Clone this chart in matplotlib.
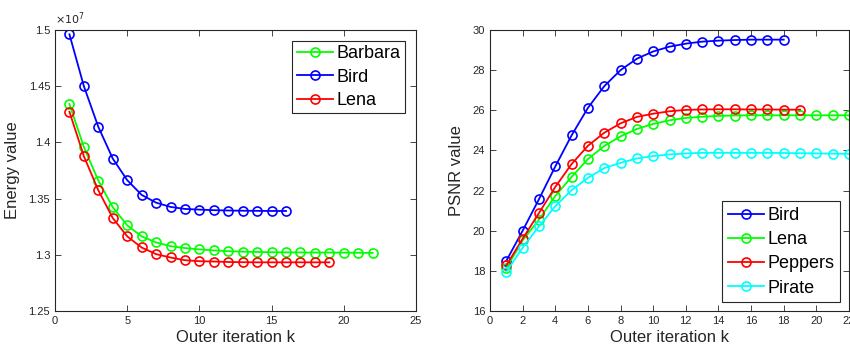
import matplotlib
matplotlib.use("Agg")
import matplotlib.pyplot as plt
from matplotlib.ticker import FuncFormatter

plt.rcParams["font.family"] = ["Liberation Sans", "DejaVu Sans"]

# ---- data ----
# left panel: energy (in units of 1e7)
energy_barbara = [1.4341, 1.3958, 1.3661, 1.3423, 1.3262, 1.3164, 1.3110, 1.3077,
                  1.3060, 1.3048, 1.3039, 1.3032, 1.3028, 1.3025, 1.3023, 1.3022,
                  1.3021, 1.3020, 1.3020, 1.3019, 1.3018, 1.3017]
energy_bird = [1.4961, 1.4500, 1.4138, 1.3856, 1.3664, 1.3533, 1.3464, 1.3426,
               1.3408, 1.3402, 1.3397, 1.3394, 1.3392, 1.3391, 1.3390, 1.3390]
energy_lena = [1.4272, 1.3877, 1.3574, 1.3327, 1.3164, 1.3065, 1.3006, 1.2976,
               1.2952, 1.2943, 1.2940, 1.2936, 1.2934, 1.2933, 1.2933, 1.2933,
               1.2933, 1.2933, 1.2933]
energy_names = ["Barbara", "Bird", "Lena"]

# right panel: PSNR
psnr_bird = [18.50, 20.00, 21.57, 23.20, 24.75, 26.12, 27.20, 28.00, 28.57,
             28.93, 29.17, 29.32, 29.42, 29.47, 29.50, 29.52, 29.52, 29.52]
psnr_lena = [18.13, 19.52, 20.55, 21.73, 22.68, 23.57, 24.22, 24.70, 25.07,
             25.32, 25.50, 25.62, 25.68, 25.72, 25.74, 25.75, 25.75, 25.75,
             25.75, 25.75, 25.75, 25.75]
psnr_peppers = [18.27, 19.60, 20.88, 22.18, 23.32, 24.23, 24.88, 25.35, 25.67,
                25.83, 25.95, 26.02, 26.04, 26.05, 26.05, 26.04, 26.04, 26.03, 26.03]
psnr_pirate = [17.95, 19.15, 20.22, 21.22, 22.02, 22.63, 23.12, 23.38, 23.60,
               23.72, 23.80, 23.85, 23.88, 23.88, 23.88, 23.88, 23.88, 23.87,
               23.86, 23.85, 23.84, 23.83]
psnr_names = ["Bird", "Lena", "Peppers", "Pirate"]

GREY = "#262626"

fig = plt.figure(figsize=(8.5, 3.5), dpi=100)
ax1 = fig.add_axes([55/850, 1-311/350, (416-55)/850, (311-30)/350])
ax2 = fig.add_axes([490/850, 1-311/350, (849-490)/850, (311-30)/350])

def style(ax):
    ax.tick_params(direction="in", top=True, right=True, labelsize=8,
                   colors=GREY, length=4, width=0.6)
    for s in ax.spines.values():
        s.set_color(GREY)
        s.set_linewidth(0.8)

def series(ax, ys, color, label):
    ks = list(range(1, len(ys) + 1))
    ax.plot(ks, ys, "-o", color=color, lw=1.3, ms=6.5, mfc="none", mew=1.2,
            label=label)

# ---- left: energy ----
series(ax1, energy_barbara, (0, 1, 0), energy_names[0])
series(ax1, energy_bird, (0, 0, 1), energy_names[1])
series(ax1, energy_lena, (1, 0, 0), energy_names[2])
ax1.set_xlim(0, 25)
ax1.set_ylim(1.25, 1.5)
ax1.set_xticks(range(0, 26, 5))
ax1.set_yticks([1.25, 1.3, 1.35, 1.4, 1.45, 1.5])
ax1.yaxis.set_major_formatter(FuncFormatter(lambda v, p: "%g" % round(v, 4)))
style(ax1)
ax1.set_xlabel("Outer iteration k", fontsize=12, color=GREY, labelpad=3)
ax1.set_ylabel("Energy value", fontsize=12, color=GREY, labelpad=6)
ax1.text(0.0, 1.012, r"$\times10^{7}$", transform=ax1.transAxes, fontsize=8,
         color=GREY, ha="left", va="bottom")
leg1 = ax1.legend(loc="upper right", fontsize=13, handlelength=2.0,
                  handletextpad=0.2, borderpad=0.25, labelspacing=0.35,
                  borderaxespad=0.6, fancybox=False, framealpha=1)
leg1.get_frame().set_edgecolor(GREY)
leg1.get_frame().set_linewidth(0.8)

# ---- right: PSNR ----
series(ax2, psnr_bird, (0, 0, 1), psnr_names[0])
series(ax2, psnr_lena, (0, 1, 0), psnr_names[1])
series(ax2, psnr_peppers, (1, 0, 0), psnr_names[2])
series(ax2, psnr_pirate, (0, 1, 1), psnr_names[3])
ax2.set_xlim(0, 22)
ax2.set_ylim(16, 30)
ax2.set_xticks(range(0, 23, 2))
ax2.set_yticks(range(16, 31, 2))
style(ax2)
ax2.set_xlabel("Outer iteration k", fontsize=12, color=GREY, labelpad=3)
ax2.set_ylabel("PSNR value", fontsize=12, color=GREY, labelpad=6)
leg2 = ax2.legend(loc="lower right", fontsize=13, handlelength=2.0,
                  handletextpad=0.2, borderpad=0.3, labelspacing=0.4,
                  borderaxespad=0.5, fancybox=False, framealpha=1)
leg2.get_frame().set_edgecolor(GREY)
leg2.get_frame().set_linewidth(0.8)

fig.savefig("out.png", dpi=100)
